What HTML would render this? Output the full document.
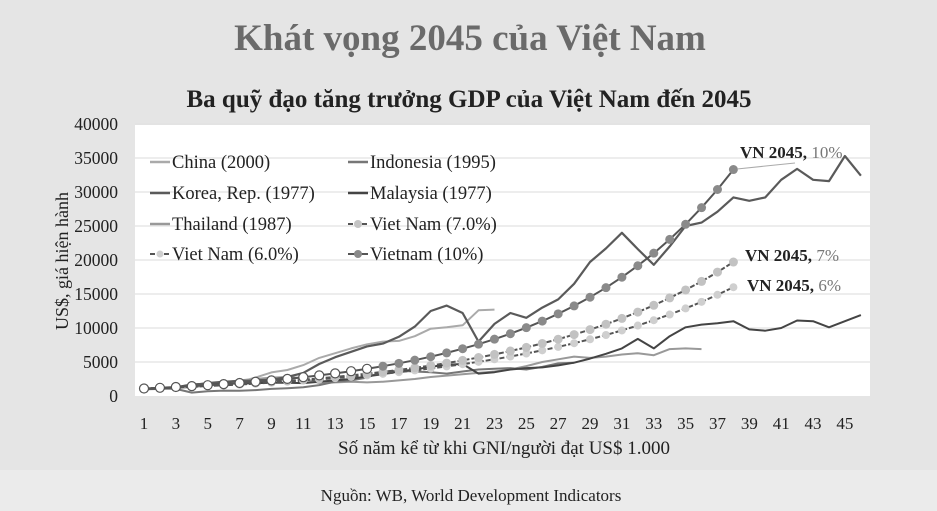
<!DOCTYPE html>
<html><head><meta charset="utf-8"><style>
html,body{margin:0;padding:0;background:#e5e5e5;}
svg{display:block;font-family:"Liberation Serif",serif;}
</style></head><body>
<svg id="s" width="937" height="511" viewBox="0 0 937 511" xmlns="http://www.w3.org/2000/svg">
<rect x="0" y="0" width="937" height="511" fill="#e5e5e5"/>
<rect x="0" y="470" width="937" height="41" fill="#ebebeb"/>
<text x="470" y="50" text-anchor="middle" font-size="37" font-weight="bold" fill="#6a6a6a">Khát vọng 2045 của Việt Nam</text>
<text x="469" y="107" text-anchor="middle" font-size="25" font-weight="bold" fill="#222">Ba quỹ đạo tăng trưởng GDP của Việt Nam đến 2045</text>
<rect x="135" y="125" width="735" height="271" fill="#fff"/>
<g id="grid" stroke="#e2e2e2" stroke-width="1.2"></g>
<g id="ylab" font-size="17.5" fill="#222" text-anchor="end"></g>
<g id="xlab" font-size="17" fill="#222" text-anchor="middle"></g>
<text transform="translate(68,261) rotate(-90)" text-anchor="middle" font-size="18" fill="#222">US$, giá hiện hành</text>
<text x="504" y="454" text-anchor="middle" font-size="19" fill="#222">Số năm kể từ khi GNI/người đạt US$ 1.000</text>
<text x="471" y="501" text-anchor="middle" font-size="17" fill="#222">Nguồn: WB, World Development Indicators</text>
<g id="series" fill="none" stroke-linejoin="round"></g>
<g font-size="18.5" fill="#222">
<line x1="150" y1="162" x2="170" y2="162" stroke="#aaa" stroke-width="2.5"/><text x="172" y="168">China (2000)</text>
<line x1="348" y1="162" x2="368" y2="162" stroke="#777" stroke-width="2.5"/><text x="370" y="168">Indonesia (1995)</text>
<line x1="150" y1="193" x2="170" y2="193" stroke="#5a5a5a" stroke-width="2.5"/><text x="172" y="199">Korea, Rep. (1977)</text>
<line x1="348" y1="193" x2="368" y2="193" stroke="#444" stroke-width="2.5"/><text x="370" y="199">Malaysia  (1977)</text>
<line x1="150" y1="224" x2="170" y2="224" stroke="#999" stroke-width="2.5"/><text x="172" y="230">Thailand (1987)</text>
<line x1="348" y1="224" x2="368" y2="224" stroke="#555" stroke-width="2" stroke-dasharray="5,2"/><circle cx="358" cy="224" r="4" fill="#c4c4c4"/><text x="370" y="230">Viet Nam (7.0%)</text>
<line x1="150" y1="254" x2="170" y2="254" stroke="#555" stroke-width="2" stroke-dasharray="5,2"/><circle cx="160" cy="254" r="3.5" fill="#d0d0d0"/><text x="172" y="260">Viet Nam (6.0%)</text>
<line x1="348" y1="254" x2="368" y2="254" stroke="#555" stroke-width="2"/><circle cx="358" cy="254" r="4" fill="#8a8a8a"/><text x="370" y="260">Vietnam (10%)</text>
</g>
<line x1="737" y1="169" x2="795" y2="163" stroke="#aaa" stroke-width="1"/>
<text x="740" y="158" font-size="17" font-weight="bold" fill="#222">VN 2045, <tspan font-weight="normal" fill="#777">10%</tspan></text>
<text x="745" y="261" font-size="17" font-weight="bold" fill="#222">VN 2045, <tspan font-weight="normal" fill="#777">7%</tspan></text>
<text x="747" y="291" font-size="17" font-weight="bold" fill="#222">VN 2045, <tspan font-weight="normal" fill="#777">6%</tspan></text>
</svg>
<script>
var NS="http://www.w3.org/2000/svg";
function X(i){return 144+(i-1)*15.93;}
function Y(v){return 396-v*0.0068;}
function el(p,t,a,txt){var e=document.createElementNS(NS,t);for(var k in a)e.setAttribute(k,a[k]);if(txt)e.textContent=txt;document.getElementById(p).appendChild(e);return e;}
for(var g=0;g<=40000;g+=5000){ if(g>0) el("grid","line",{x1:135,x2:870,y1:Y(g),y2:Y(g)}); el("ylab","text",{x:118,y:Y(g)+6},String(g));}
for(var i=1;i<=45;i+=2){el("xlab","text",{x:X(i),y:429},String(i));}
function line(vals,col,w){var p=vals.map(function(v,k){return X(k+1).toFixed(1)+","+Y(v).toFixed(1)}).join(" ");el("series","polyline",{points:p,stroke:col,"stroke-width":w});}
var china=[960,1050,1150,1300,1500,1750,2100,2700,3470,3830,4550,5600,6300,7000,7600,8000,8100,8800,9900,10100,10400,12600,12700];
var indo=[1000,1100,1050,500,700,800,780,870,1050,1150,1300,1600,2100,2300,2700,3600,3700,3600,3500,3300,3600,3900,4000,4100,3900,4300,4800,4900];
var korea=[1000,1100,1300,1600,1900,2100,2200,2300,2400,2800,3400,4700,5700,6500,7300,7700,8700,10200,12500,13300,12200,8000,10600,12200,11500,13000,14200,16500,19700,21700,24000,21600,19300,22000,25000,25500,27100,29200,28700,29200,31800,33400,31800,31600,35300,32400];
var mal=[1000,1100,1300,1700,1800,1850,1800,1900,1950,1950,1900,2100,2300,2500,2900,3200,3600,3900,4300,4600,4700,3300,3500,3900,4100,4200,4500,4900,5500,6200,7000,8400,7000,8800,10100,10500,10700,11000,9800,9600,10000,11100,11000,10100,11000,11900];
var thai=[1000,1150,1300,1500,1700,2000,2300,2500,2700,2800,2600,1900,2000,2100,2000,2100,2300,2500,2800,3000,3200,3400,3600,3900,4400,5000,5400,5800,5600,5800,6100,6300,6000,6900,7000,6900];
line(thai,"#999",2);line(china,"#aaa",2);line(indo,"#777",2);line(mal,"#444",2);line(korea,"#5a5a5a",2.2);
function growth(end,n){var r=Math.pow(end/1100,1/(n-1)),a=[];for(var k=0;k<n;k++)a.push(1100*Math.pow(r,k));return a;}
function mk(vals,fill,dash,r){var p=vals.map(function(v,k){return X(k+1).toFixed(1)+","+Y(v).toFixed(1)}).join(" ");
 var a={points:p,stroke:"#555","stroke-width":2};if(dash)a["stroke-dasharray"]=dash;el("series","polyline",a);
 vals.forEach(function(v,k){el("series","circle",{cx:X(k+1),cy:Y(v),r:r,fill:fill,stroke:"none"});});}
mk(growth(16000,38),"#cfcfcf","5,2",4);
mk(growth(19700,38),"#c2c2c2","5,2",4.5);
var v10=growth(33300,38);
mk(v10,"#8a8a8a","",4.5);
for(var k=0;k<15;k++){el("series","circle",{cx:X(k+1),cy:Y(v10[k]),r:4.5,fill:"#fff",stroke:"#555","stroke-width":1.2});}
</script>
</body></html>
